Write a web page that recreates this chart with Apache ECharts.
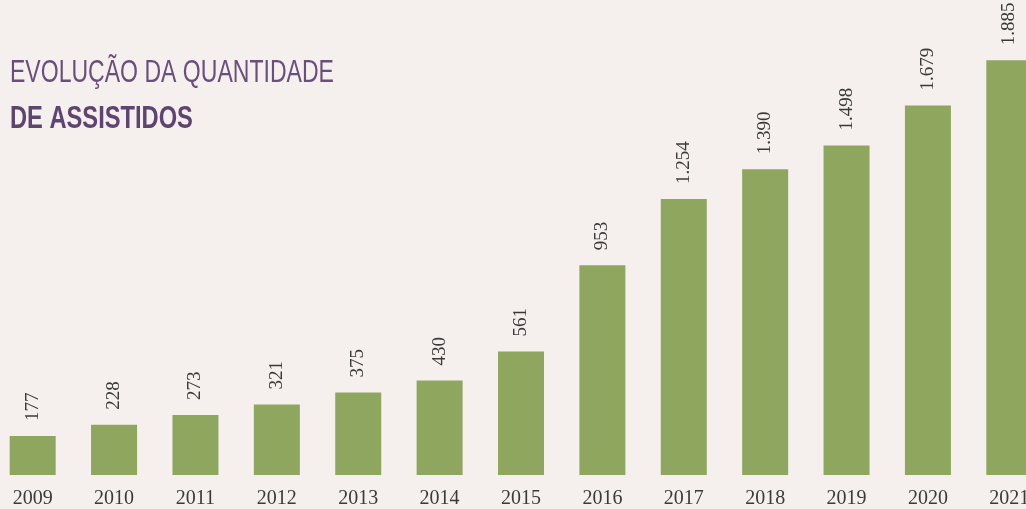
<!DOCTYPE html>
<html>
<head>
<meta charset="utf-8">
<script src="https://cdn.jsdelivr.net/npm/echarts@6/dist/echarts.min.js"></script>
<style>
  html, body { margin: 0; padding: 0; background: #f5f0ee; overflow: hidden; }
  /* chart is a bit wider than the window so the first and last bars sit at the edges */
  #chart { width: 1058px; height: 509px; margin-left: -8px; }
</style>
</head>
<body>
<div id="chart"></div>
<script>
const years = ['2009', '2010', '2011', '2012', '2013', '2014', '2015', '2016', '2017', '2018', '2019', '2020', '2021'];
const assistidos = [177, 228, 273, 321, 375, 430, 561, 953, 1254, 1390, 1498, 1679, 1885];
const titleLines = ['EVOLUÇÃO DA QUANTIDADE', 'DE ASSISTIDOS'];

// pt-BR style thousands separator: 1.885
function fmt(v) {
  return String(v).replace(/\B(?=(\d{3})+(?!\d))/g, '.');
}

const chart = echarts.init(document.getElementById('chart'));
chart.setOption({
  backgroundColor: '#f5f0ee',
  animation: false,
  grid: {
    left: 0,
    right: 0,
    top: 35,
    bottom: 26
  },
  xAxis: {
    type: 'category',
    data: years,
    axisLine: { show: false },
    axisTick: { show: false },
    axisLabel: {
      margin: 14,
      color: '#3a3a3a',
      fontFamily: 'Liberation Serif',
      fontSize: 20
    }
  },
  yAxis: {
    type: 'value',
    min: 0,
    max: 2000,
    show: false
  },
  series: [{
    type: 'bar',
    data: assistidos,
    barWidth: 46,
    itemStyle: { color: '#8ea65e' },
    label: {
      show: true,
      position: 'top',
      rotate: 90,
      align: 'left',
      verticalAlign: 'middle',
      distance: 15,
      color: '#3a3a3a',
      fontFamily: 'Liberation Serif',
      fontSize: 19,
      formatter: p => fmt(p.value)
    }
  }],
  graphic: [
    {
      type: 'text',
      left: 18,
      top: 57,
      scaleX: 0.72,
      style: {
        text: titleLines[0],
        fill: '#6a4f7c',
        fontFamily: 'Liberation Sans',
        fontSize: 32,
        fontWeight: 'normal'
      }
    },
    {
      type: 'text',
      left: 18,
      top: 103,
      scaleX: 0.74,
      style: {
        text: titleLines[1],
        fill: '#5e4470',
        fontFamily: 'Liberation Sans',
        fontSize: 32,
        fontWeight: 'bold'
      }
    }
  ]
});
</script>
</body>
</html>
